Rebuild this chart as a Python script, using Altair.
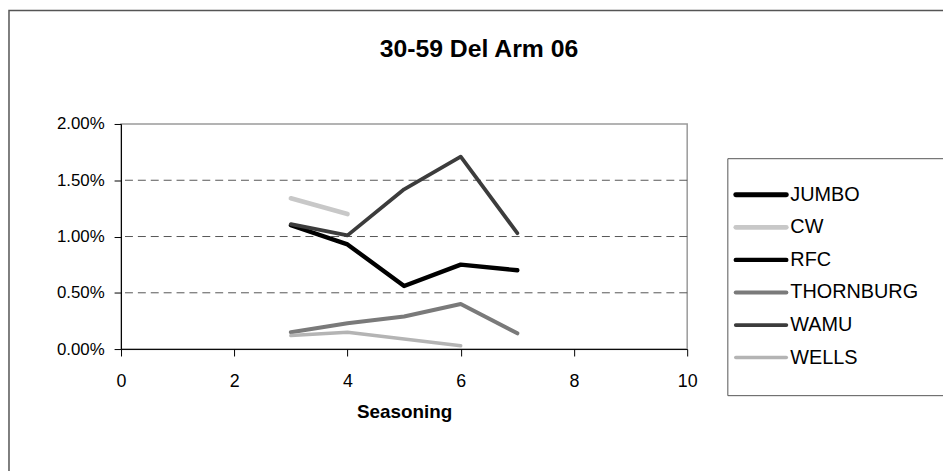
import altair as alt
import pandas as pd

# ---- data ----
seasoning = [3, 4, 5, 6, 7]
series_names = ["JUMBO", "CW", "RFC", "THORNBURG", "WAMU", "WELLS"]
jumbo = [None, None, None, None, None]
cw = [0.0134, 0.0120, None, None, None]
rfc = [0.0110, 0.0093, 0.0056, 0.0075, 0.0070]
thornburg = [0.0015, 0.0023, 0.0029, 0.0040, 0.0014]
wamu = [0.0111, 0.0101, 0.0142, 0.0171, 0.0103]
wells = [0.0012, 0.0015, 0.0009, 0.0003, None]
y_ticks = [0.0, 0.005, 0.010, 0.015, 0.020]
x_ticks = [0, 2, 4, 6, 8, 10]
grid_values = [0.005, 0.010, 0.015]
title_text = "30-59 Del Arm 06"

colors = ["#000000", "#c8c8c8", "#000000", "#7a7a7a", "#3c3c3c", "#b4b4b4"]
widths = [5, 3.5, 5, 4.5, 4.5, 3.5]

rows = []
for name, vals in zip(series_names, [jumbo, cw, rfc, thornburg, wamu, wells]):
    for x, v in zip(seasoning, vals):
        if v is not None:
            rows.append({"series": name, "Seasoning": x, "value": v})
df = pd.DataFrame(rows)

FONT = "Liberation Sans"
W, H = 571, 227

color_scale = alt.Scale(domain=series_names, range=colors)
width_scale = alt.Scale(domain=series_names, range=widths)
one = pd.DataFrame({"a": [0]})

grid = alt.Chart(pd.DataFrame({"g": grid_values})).mark_rule(
    color="#555555", strokeDash=[8, 5], strokeWidth=1
).encode(y=alt.Y("g:Q", scale=alt.Scale(domain=[0, 0.02])))

lines = alt.Chart(df).mark_line(strokeCap="round", strokeJoin="round").encode(
    x=alt.X("Seasoning:Q", scale=alt.Scale(domain=[0, 10], nice=False),
            axis=alt.Axis(values=x_ticks, title="Seasoning", grid=False,
                          labelFlush=False,
                          tickSize=7, labelPadding=17, titlePadding=12,
                          labelFontSize=18, titleFontSize=19, titleFontWeight="bold",
                          labelFont=FONT, titleFont=FONT, labelColor="#000",
                          titleColor="#000", domainColor="#000", tickColor="#000")),
    y=alt.Y("value:Q", scale=alt.Scale(domain=[0, 0.02], nice=False),
            axis=alt.Axis(values=y_ticks, format=".2%", title=None, grid=False,
                          tickSize=7, labelPadding=10, labelFontSize=17,
                          labelFont=FONT, labelColor="#000",
                          domainColor="#000", tickColor="#000")),
    color=alt.Color("series:N", scale=color_scale, legend=None),
    strokeWidth=alt.StrokeWidth("series:N", scale=width_scale, legend=None),
    detail="series:N",
    order=alt.Order("Seasoning:Q"),
)

main = alt.layer(grid, lines)

# ---- manual legend ----
leg_df = pd.DataFrame({"series": series_names})
leg_y = alt.Y("series:N", scale=alt.Scale(domain=series_names, range=[55, 252], type="point"), axis=None)

leg_box = alt.Chart(one).mark_rect(
    fill="white", stroke="#555555", strokeWidth=1
).encode(x=alt.value(612), x2=alt.value(900), y=alt.value(35), y2=alt.value(274))

leg_lines = alt.Chart(leg_df).mark_rule(strokeCap="round").encode(
    x=alt.value(620), x2=alt.value(671), y=leg_y,
    color=alt.Color("series:N", scale=color_scale, legend=None),
    strokeWidth=alt.StrokeWidth("series:N", scale=width_scale, legend=None),
)
leg_text = alt.Chart(leg_df).mark_text(
    align="left", baseline="middle", font=FONT, fontSize=20, color="#000"
).encode(x=alt.value(675), y=leg_y, text="series:N")

frame = alt.Chart(one).mark_rect(
    fill="transparent", stroke="#555555", strokeWidth=1.5
).encode(x=alt.value(-113), x2=alt.value(1000), y=alt.value(-114.5), y2=alt.value(600))

title = alt.Chart(one).mark_text(
    text=title_text, font=FONT, fontSize=25, fontWeight="bold", color="#000",
    align="center", baseline="middle"
).encode(x=alt.value(361), y=alt.value(-76))

chart = alt.layer(
    frame, title, main, leg_box, leg_lines, leg_text
).resolve_scale(y="independent").properties(
    width=W, height=H,
    autosize=alt.AutoSizeParams(type="none"),
    padding={"left": 114, "top": 115, "right": 258, "bottom": 121},
).configure_view(stroke="#9a9a9a", strokeWidth=1.5)

chart.save("out.html", embed_options={"renderer": "svg", "actions": False})
